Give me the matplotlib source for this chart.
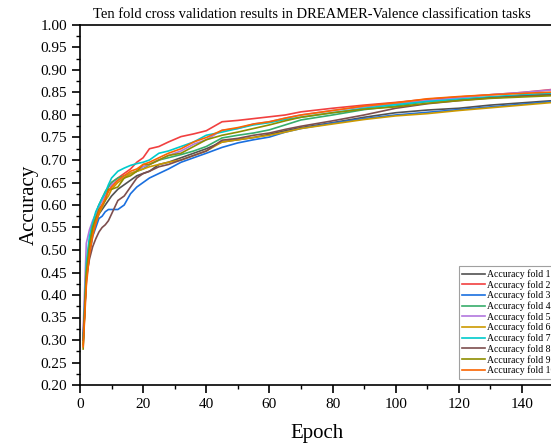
import numpy as np
import matplotlib
matplotlib.use("Agg")
import matplotlib.pyplot as plt
from matplotlib.ticker import MultipleLocator, FormatStrFormatter

# epochs where values were read
epochs = [1, 2, 3, 4, 5, 6, 7, 8, 9, 10, 12, 14, 16, 18, 20, 22, 25, 28, 32, 36,
          40, 45, 50, 55, 60, 65, 70, 80, 90, 100, 110, 120, 130, 140, 150]

fold1 = [0.30, 0.44, 0.50, 0.54, 0.56, 0.58, 0.59, 0.60, 0.61, 0.62, 0.635, 0.645, 0.655, 0.665, 0.67,
         0.675, 0.69, 0.695, 0.705, 0.715, 0.725, 0.74, 0.745, 0.75, 0.757, 0.765, 0.772, 0.783, 0.795,
         0.805, 0.811, 0.815, 0.822, 0.827, 0.832]
fold2 = [0.31, 0.46, 0.52, 0.56, 0.58, 0.60, 0.61, 0.625, 0.64, 0.65, 0.66, 0.67, 0.68, 0.695, 0.705,
         0.725, 0.73, 0.74, 0.752, 0.758, 0.765, 0.785, 0.788, 0.792, 0.796, 0.800, 0.807, 0.815, 0.822,
         0.828, 0.835, 0.84, 0.845, 0.85, 0.857]
fold3 = [0.30, 0.43, 0.49, 0.53, 0.55, 0.57, 0.575, 0.585, 0.59, 0.59, 0.59, 0.60, 0.625, 0.64, 0.65,
         0.66, 0.67, 0.68, 0.695, 0.705, 0.715, 0.728, 0.738, 0.745, 0.751, 0.762, 0.77, 0.782, 0.792,
         0.80, 0.806, 0.812, 0.818, 0.824, 0.83]
fold4 = [0.29, 0.45, 0.51, 0.55, 0.58, 0.60, 0.615, 0.63, 0.64, 0.65, 0.66, 0.665, 0.67, 0.675, 0.68,
         0.69, 0.70, 0.705, 0.712, 0.72, 0.73, 0.749, 0.755, 0.76, 0.767, 0.778, 0.789, 0.80, 0.812,
         0.82, 0.83, 0.835, 0.84, 0.843, 0.846]
fold5 = [0.32, 0.515, 0.545, 0.565, 0.58, 0.595, 0.61, 0.62, 0.63, 0.645, 0.655, 0.66, 0.67, 0.675, 0.685,
         0.69, 0.70, 0.71, 0.72, 0.735, 0.745, 0.766, 0.77, 0.78, 0.785, 0.793, 0.80, 0.81, 0.818,
         0.825, 0.832, 0.838, 0.845, 0.85, 0.856]
fold6 = [0.29, 0.44, 0.50, 0.54, 0.56, 0.58, 0.595, 0.61, 0.62, 0.635, 0.65, 0.66, 0.67, 0.675, 0.68,
         0.685, 0.69, 0.695, 0.70, 0.71, 0.72, 0.74, 0.745, 0.75, 0.755, 0.762, 0.77, 0.78, 0.79,
         0.798, 0.803, 0.81, 0.816, 0.822, 0.828]
fold7 = [0.30, 0.47, 0.53, 0.56, 0.585, 0.60, 0.615, 0.627, 0.645, 0.66, 0.675, 0.682, 0.688, 0.692, 0.695,
         0.70, 0.715, 0.72, 0.73, 0.74, 0.755, 0.762, 0.77, 0.778, 0.783, 0.79, 0.795, 0.805, 0.815,
         0.823, 0.83, 0.835, 0.84, 0.845, 0.849]
fold8 = [0.30, 0.44, 0.48, 0.507, 0.525, 0.54, 0.55, 0.556, 0.565, 0.58, 0.61, 0.62, 0.64, 0.66, 0.67,
         0.675, 0.685, 0.69, 0.70, 0.71, 0.72, 0.744, 0.748, 0.755, 0.76, 0.768, 0.775, 0.787, 0.80,
         0.815, 0.825, 0.832, 0.838, 0.842, 0.845]
fold9 = [0.28, 0.45, 0.51, 0.55, 0.57, 0.59, 0.60, 0.61, 0.635, 0.635, 0.64, 0.66, 0.665, 0.675, 0.69,
         0.69, 0.70, 0.71, 0.715, 0.73, 0.745, 0.755, 0.762, 0.77, 0.778, 0.787, 0.795, 0.805, 0.813,
         0.818, 0.826, 0.832, 0.837, 0.84, 0.843]
fold10 = [0.285, 0.42, 0.49, 0.53, 0.56, 0.585, 0.60, 0.615, 0.63, 0.64, 0.655, 0.665, 0.675, 0.68, 0.69,
          0.695, 0.705, 0.715, 0.725, 0.74, 0.75, 0.766, 0.772, 0.78, 0.785, 0.793, 0.80, 0.81, 0.82,
          0.827, 0.836, 0.841, 0.845, 0.848, 0.851]

folds = [fold1, fold2, fold3, fold4, fold5, fold6, fold7, fold8, fold9, fold10]
labels = ["Accuracy fold %d" % (i + 1) for i in range(10)]
colors = ['#515151', '#F14040', '#1A6FDF', '#37AD6B', '#B177DE',
          '#CC9900', '#00CBCC', '#7D4E4E', '#8E8E00', '#FB6501']

plt.rcParams['font.family'] = ['Liberation Serif', 'DejaVu Serif']

fig = plt.figure(figsize=(5.51, 4.46), dpi=100)
# axes goes a bit past the right edge, like the cropped original
ax = fig.add_axes([80 / 551, 61 / 446, 473.5 / 551, 360 / 446])

for f, lab, c in zip(folds, labels, colors):
    ax.plot(epochs, f, color=c, lw=1.2, label=lab)

ax.set_xlim(0, 150)
ax.set_ylim(0.20, 1.00)
ax.xaxis.set_major_locator(MultipleLocator(20))
ax.xaxis.set_minor_locator(MultipleLocator(10))
ax.yaxis.set_major_locator(MultipleLocator(0.05))
ax.yaxis.set_minor_locator(MultipleLocator(0.025))
ax.yaxis.set_major_formatter(FormatStrFormatter('%.2f'))
ax.tick_params(which='major', direction='out', length=6, width=1.2, labelsize=11)
ax.tick_params(which='minor', direction='out', length=3, width=1.0)
for s in ax.spines.values():
    s.set_linewidth(1.2)

ax.set_xlabel("Epoch", fontsize=15, labelpad=9)
ax.set_ylabel("Accuracy", fontsize=15, labelpad=1)
fig.text(312 / 551, 1 - 14 / 446, "Ten fold cross validation results in DREAMER-Valence classification tasks",
         ha='center', va='center', fontsize=10.5)

leg = ax.legend(loc='upper left', bbox_to_anchor=(459 / 551, 1 - 266 / 446),
                bbox_transform=fig.transFigure, fontsize=7, frameon=True, fancybox=False,
                edgecolor='#888888', handlelength=2.3, handletextpad=0.25, labelspacing=0.1,
                borderpad=0.35, borderaxespad=0)
leg.get_frame().set_linewidth(0.8)

fig.savefig("out.png", dpi=100)
